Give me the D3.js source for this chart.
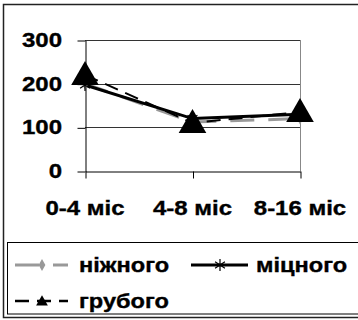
<!DOCTYPE html>
<html>
<head>
<meta charset="utf-8">
<script src="https://cdn.jsdelivr.net/npm/d3@7"></script>
<style>
  html, body { margin: 0; padding: 0; background: #fff; }
  svg { display: block; }
  text { font-family: "Liberation Sans", Arial, sans-serif; font-weight: bold; fill: #000; stroke: #000; stroke-width: 0.35px; }
</style>
</head>
<body>
<svg id="chart" width="358" height="320"></svg>
<script>
// Age groups on the x axis
const categories = ["0-4 міс", "4-8 міс", "8-16 міс"];
// Series values
const nizhnogo = [200, 112, 120];
const mitsnogo = [197, 120, 130];
const grubogo  = [220, 110, 135];
const seriesNames = ["ніжного", "міцного", "грубого"];
const yTicks = [0, 100, 200, 300];

const svg = d3.select("#chart");
const W = 358, H = 320;
const plot = { left: 85, right: 300, top: 40, bottom: 171 };
const SX = 1.2; // horizontal stretch of lettering

const x = d3.scalePoint().domain(categories).range([plot.left, plot.right]);
const y = d3.scaleLinear().domain([0, 300]).range([plot.bottom, plot.top]);

// Outer frame and legend frame
svg.append("rect").attr("x", 3.5).attr("y", 4.5).attr("width", W + 10).attr("height", 313)
  .attr("fill", "none").attr("stroke", "#222").attr("stroke-width", 1.5);
svg.append("rect").attr("x", 7.5).attr("y", 242.5).attr("width", W + 10).attr("height", 71.5)
  .attr("fill", "none").attr("stroke", "#000").attr("stroke-width", 1);

// Gridlines
svg.append("g").selectAll("line").data(yTicks.filter(d => d > 0)).join("line")
  .attr("x1", plot.left).attr("x2", plot.right)
  .attr("y1", d => Math.round(y(d)) + 0.5).attr("y2", d => Math.round(y(d)) + 0.5)
  .attr("stroke", "#333").attr("stroke-width", 1);
svg.append("line").attr("x1", plot.right + 0.5).attr("x2", plot.right + 0.5)
  .attr("y1", plot.top).attr("y2", plot.bottom)
  .attr("stroke", "#888").attr("stroke-width", 1);

// Y axis
const yAxis = svg.append("g").attr("transform", `translate(${plot.left + 0.5},0.5)`)
  .call(d3.axisLeft(y).tickValues(yTicks).tickSize(8).tickSizeOuter(0).tickFormat(""));
yAxis.select(".domain").attr("stroke", "#000");
yAxis.selectAll(".tick line").attr("stroke", "#000");
svg.append("g").selectAll("text").data(yTicks).join("text")
  .attr("transform", d => `translate(62,${y(d) + 7}) scale(${SX},1)`)
  .attr("text-anchor", "end").style("font-size", "20px").text(d => d);

// X axis
const xAxis = svg.append("g").attr("transform", `translate(0.5,${plot.bottom + 0.5})`)
  .call(d3.axisBottom(x).tickSize(7).tickSizeOuter(0).tickFormat(""));
xAxis.select(".domain").attr("stroke", "#000");
xAxis.selectAll(".tick line").attr("stroke", "#000");
svg.append("g").selectAll("text").data(categories).join("text")
  .attr("transform", d => `translate(${x(d)},215) scale(${SX},1)`)
  .attr("text-anchor", "middle").style("font-size", "20px").text(d => d);

// Marker shapes
const diamond = d3.symbol().type(d3.symbolDiamond).size(40);
const triangleBig = d3.symbol().type(d3.symbolTriangle).size(330);
const triangleSmall = d3.symbol().type(d3.symbolTriangle).size(60);
function starPath(r) {
  const a = r * 0.82, b = r * 0.55;
  return `M0,${-r}L0,${r}M${-a},${-b}L${a},${b}M${-a},${b}L${a},${-b}`;
}

const line = d3.line().x((d, i) => x(categories[i])).y(d => y(d));

const styles = [
  { name: seriesNames[0], data: nizhnogo, color: "#999", width: 3, dash: "24,14" },
  { name: seriesNames[1], data: mitsnogo, color: "#000", width: 3, dash: null },
  { name: seriesNames[2], data: grubogo,  color: "#000", width: 2, dash: "14,8" }
];

const lines = svg.append("g");
styles.forEach(s => {
  lines.append("path").datum(s.data).attr("d", line)
    .attr("fill", "none").attr("stroke", s.color).attr("stroke-width", s.width)
    .attr("stroke-dasharray", s.dash);
});
// Markers
svg.append("g").selectAll("path").data(nizhnogo).join("path")
  .attr("transform", (d, i) => `translate(${x(categories[i])},${y(d)})`)
  .attr("d", diamond).attr("fill", "#999");
svg.append("g").selectAll("path").data(mitsnogo).join("path")
  .attr("transform", (d, i) => `translate(${x(categories[i])},${y(d)})`)
  .attr("d", starPath(6)).attr("stroke", "#000").attr("stroke-width", 1.2).attr("fill", "none");
svg.append("g").selectAll("path").data(grubogo).join("path")
  .attr("transform", (d, i) => `translate(${x(categories[i])},${y(d) + 2})`)
  .attr("d", triangleBig).attr("fill", "#000");

// Legend
const legendItems = [
  { s: styles[0], x: 15, y: 265, len: 53 },
  { s: styles[1], x: 191, y: 265, len: 57 },
  { s: styles[2], x: 15, y: 301, len: 53 }
];
const lg = svg.append("g");
legendItems.forEach((it, k) => {
  const g = lg.append("g");
  g.append("line").attr("x1", it.x).attr("x2", it.x + it.len)
    .attr("y1", it.y).attr("y2", it.y)
    .attr("stroke", it.s.color).attr("stroke-width", k === 2 ? 2.5 : 3)
    .attr("stroke-dasharray", it.s.dash);
  const mx = it.x + (k === 1 ? 29 : 27);
  if (k === 0) g.append("path").attr("transform", `translate(${mx},${it.y})`).attr("d", diamond).attr("fill", "#999");
  if (k === 1) g.append("path").attr("transform", `translate(${mx},${it.y})`).attr("d", starPath(6)).attr("stroke", "#000").attr("stroke-width", 1.2).attr("fill", "none");
  if (k === 2) g.append("path").attr("transform", `translate(${mx},${it.y + 1})`).attr("d", triangleSmall).attr("fill", "#000");
  g.append("text").attr("transform", `translate(${it.x + it.len + (k === 1 ? 8 : 11)},${it.y + 7}) scale(1.18,1)`)
    .style("font-size", "20px").text(it.s.name);
});
</script>
</body>
</html>
